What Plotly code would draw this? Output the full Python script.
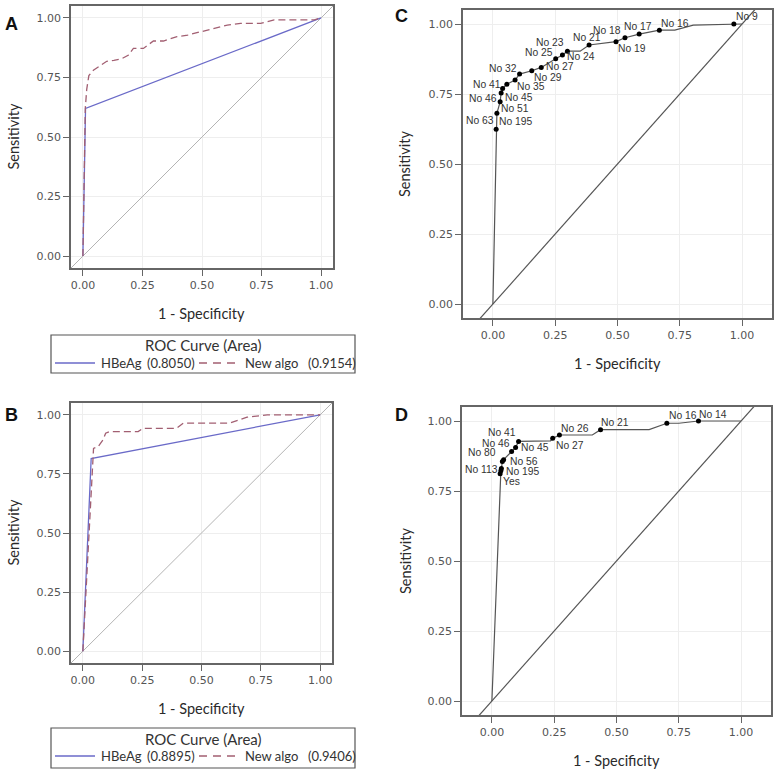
import plotly.graph_objects as go

# ---------------- data ----------------
# Panel A (HBeAg vs New algo)
A_hbeag_fpr = [0, 0.011, 1.0]
A_hbeag_tpr = [0, 0.62, 1.0]
A_new_fpr = [0, 0.010, 0.016, 0.025, 0.044, 0.065, 0.100, 0.130, 0.163, 0.190, 0.212, 0.254,
             0.296, 0.338, 0.395, 0.440, 0.493, 0.549, 0.606, 0.662, 0.746, 0.803, 0.972, 1.0]
A_new_tpr = [0, 0.620, 0.700, 0.758, 0.780, 0.794, 0.818, 0.822, 0.829, 0.843, 0.872, 0.872,
             0.903, 0.903, 0.921, 0.928, 0.942, 0.956, 0.970, 0.977, 0.977, 0.992, 0.992, 1.0]
A_series = ["HBeAg", "New algo"]
A_auc = ["0.8050", "0.9154"]

# Panel B
B_hbeag_fpr = [0, 0.035, 1.0]
B_hbeag_tpr = [0, 0.815, 1.0]
B_new_fpr = [0, 0.040, 0.045, 0.064, 0.085, 0.096, 0.113, 0.233, 0.254, 0.395, 0.424, 0.620, 0.692, 0.777, 1.0]
B_new_tpr = [0, 0.816, 0.858, 0.865, 0.894, 0.922, 0.929, 0.929, 0.943, 0.943, 0.965, 0.965, 0.990, 1.0, 1.0]
B_series = ["HBeAg", "New algo"]
B_auc = ["0.8895", "0.9406"]

legend_title = "ROC Curve (Area)"

# Panel C (labelled cut-offs)
C_curve_fpr = [0, 0.013, 0.016, 0.029, 0.033, 0.039, 0.056, 0.089, 0.107, 0.156, 0.194, 0.252, 0.279,
               0.299, 0.350, 0.386, 0.494, 0.530, 0.587, 0.668, 0.730, 0.804, 0.967, 1.0]
C_curve_tpr = [0, 0.624, 0.681, 0.722, 0.754, 0.770, 0.785, 0.800, 0.821, 0.833, 0.845, 0.876, 0.889,
               0.903, 0.903, 0.925, 0.937, 0.951, 0.964, 0.978, 0.978, 0.996, 1.0, 1.0]
C_pt_fpr = [0.013, 0.016, 0.029, 0.033, 0.039, 0.056, 0.089, 0.107, 0.156, 0.194, 0.252, 0.279, 0.299,
            0.386, 0.494, 0.530, 0.587, 0.668, 0.967]
C_pt_tpr = [0.624, 0.681, 0.722, 0.754, 0.770, 0.785, 0.800, 0.821, 0.833, 0.845, 0.876, 0.889, 0.903,
            0.925, 0.937, 0.951, 0.964, 0.978, 1.0]
C_labels = ["No 195", "No 63", "No 51", "No 46", "No 45", "No 41", "No 35", "No 32", "No 29", "No 27",
            "No 25", "No 24", "No 23", "No 21", "No 19", "No 18", "No 17", "No 16", "No 9"]

# Panel D
D_curve_fpr = [0, 0.033, 0.036, 0.038, 0.042, 0.047, 0.063, 0.079, 0.095, 0.107, 0.235, 0.244, 0.271,
               0.403, 0.436, 0.631, 0.702, 0.750, 0.829, 1.0]
D_curve_tpr = [0, 0.812, 0.822, 0.830, 0.855, 0.862, 0.876, 0.891, 0.905, 0.927, 0.929, 0.938, 0.950,
               0.950, 0.969, 0.969, 0.992, 0.992, 1.0, 1.0]
D_pt_fpr = [0.033, 0.036, 0.038, 0.042, 0.047, 0.079, 0.095, 0.107, 0.244, 0.271, 0.436, 0.702, 0.829]
D_pt_tpr = [0.812, 0.822, 0.830, 0.855, 0.862, 0.891, 0.905, 0.927, 0.938, 0.950, 0.969, 0.992, 1.0]
D_labels = ["Yes", "No 195", "No 113", "No 80", "No 56", "No 46", "No 45", "No 41",
            "No 27", "No 26", "No 21", "No 16", "No 14"]

diag = [-0.2, 1.2]
tick_vals = [0, 0.25, 0.5, 0.75, 1.0]

# ---------------- styles ----------------
# label offsets (pixels, dx right / dy up) relative to each cut-off point
C_off = [(19, 8), (-17, -7), (15, -7), (-18, -6), (16, -9), (-20, 0), (16, -7), (-17, 6), (16, -7),
         (19, 1), (-17, 6), (19, -1), (-17, 9), (-2, 7), (16, -7), (-18, 7), (-1, 8), (16, 7), (13, 7)]
D_off = [(11, -8), (22, -1), (-20, -1), (-20, 9), (20, -2), (-16, 8), (19, 0), (-17, 9),
         (17, -7), (16, 7), (14, 7), (16, 8), (15, 7)]

W, H = 779, 771
BLUE = "#6A6AC8"
MAROON = "#A25F72"
LINE = "#555555"
DASH = "7px,4px"

fig = go.Figure()


def add_ab(xa, ya, h_fpr, h_tpr, n_fpr, n_tpr, names):
    fig.add_trace(go.Scatter(x=diag, y=diag, mode="lines", line=dict(color="#B4B4B4", width=1),
                             showlegend=False, hoverinfo="skip", xaxis=xa, yaxis=ya))
    fig.add_trace(go.Scatter(x=h_fpr, y=h_tpr, mode="lines", line=dict(color=BLUE, width=1.3),
                             name=names[0], showlegend=False, xaxis=xa, yaxis=ya))
    fig.add_trace(go.Scatter(x=n_fpr, y=n_tpr, mode="lines", line=dict(color=MAROON, width=1.3, dash=DASH),
                             name=names[1], showlegend=False, xaxis=xa, yaxis=ya))


add_ab("x", "y", A_hbeag_fpr, A_hbeag_tpr, A_new_fpr, A_new_tpr, A_series)
add_ab("x3", "y3", B_hbeag_fpr, B_hbeag_tpr, B_new_fpr, B_new_tpr, B_series)

annots = []
lab_font = dict(family="Liberation Sans", size=10.3, color="#333333")


def add_cd(xa, ya, c_fpr, c_tpr, p_fpr, p_tpr, labels, offs):
    fig.add_trace(go.Scatter(x=diag, y=diag, mode="lines", line=dict(color=LINE, width=1.2),
                             showlegend=False, hoverinfo="skip", xaxis=xa, yaxis=ya))
    fig.add_trace(go.Scatter(x=c_fpr, y=c_tpr, mode="lines", line=dict(color=LINE, width=1.2),
                             showlegend=False, xaxis=xa, yaxis=ya))
    fig.add_trace(go.Scatter(x=p_fpr, y=p_tpr, mode="markers", text=labels,
                             marker=dict(color="black", size=5),
                             showlegend=False, xaxis=xa, yaxis=ya))
    for xv, yv, t, (dx, dy) in zip(p_fpr, p_tpr, labels, offs):
        annots.append(dict(x=xv, y=yv, xref=xa, yref=ya, text=t, showarrow=False,
                           xshift=dx, yshift=dy, font=lab_font, xanchor="center", yanchor="middle"))


add_cd("x2", "y2", C_curve_fpr, C_curve_tpr, C_pt_fpr, C_pt_tpr, C_labels, C_off)
add_cd("x4", "y4", D_curve_fpr, D_curve_tpr, D_pt_fpr, D_pt_tpr, D_labels, D_off)


def ax(domain, rng, anchor):
    return dict(domain=domain, range=rng, anchor=anchor, tickvals=tick_vals, tickformat=".2f",
                showline=True, mirror=True, linecolor="#666666", linewidth=1.5,
                ticks="outside", ticklen=6, tickcolor="#666666", tickwidth=1,
                showgrid=True, gridcolor="#EEEEEE", gridwidth=1, zeroline=False,
                tickfont=dict(family="DejaVu Sans", size=11, color="#555555"))


def dx_(a, b):
    return [a / W, b / W]


def dy_(top, bottom):
    return [1 - bottom / H, 1 - top / H]


domA_x, domA_y = dx_(71, 333), dy_(6, 268)
domB_x, domB_y = dx_(71, 332), dy_(403, 663)
domC_x, domC_y = dx_(463, 772), dy_(10, 318)
domD_x, domD_y = dx_(462, 771), dy_(407, 715)

rAB = [-0.05, 1.05]
rCDx = [-0.12, 1.12]

# ---- legends drawn as a framed key under panels A and B ----
shapes = []
leg_font = dict(family="Lato", size=13, color="#333333")
leg_title_font = dict(family="Lato", size=15, color="#333333")


def px(x):
    return x / W


def py(y):
    return 1 - y / H


def add_key(top, bottom, names, aucs):
    shapes.append(dict(type="rect", xref="paper", yref="paper", x0=px(51), x1=px(355), y0=py(bottom), y1=py(top),
                       line=dict(color="#555555", width=1.2), fillcolor="rgba(0,0,0,0)"))
    ty = top + 10.5
    iy = top + 28
    annots.append(dict(text=legend_title, x=px(203), y=py(ty), xref="paper", yref="paper", showarrow=False,
                       font=leg_title_font, xanchor="center", yanchor="middle"))
    shapes.append(dict(type="line", xref="paper", yref="paper", x0=px(55), x1=px(95), y0=py(iy), y1=py(iy),
                       line=dict(color=BLUE, width=1.3)))
    shapes.append(dict(type="line", xref="paper", yref="paper", x0=px(199), x1=px(236), y0=py(iy), y1=py(iy),
                       line=dict(color=MAROON, width=1.3, dash="8px,6px")))
    for txt, xl in [(names[0], 99), ("(" + aucs[0] + ")", 145), (names[1], 243), ("(" + aucs[1] + ")", 306)]:
        annots.append(dict(text=txt, x=px(xl), y=py(iy), xref="paper", yref="paper", showarrow=False,
                           font=leg_font, xanchor="left", yanchor="middle"))


add_key(335, 373, A_series, A_auc)
add_key(728, 768, B_series, B_auc)

title_font = dict(family="Lato", size=14.5, color="#2a2a2a")
letter_font = dict(family="Liberation Sans", size=18, color="#111111")
for (dxd, xt_y) in [(domA_x, 313), (domB_x, 708), (domC_x, 363), (domD_x, 760)]:
    annots.append(dict(text="1 - Specificity", x=(dxd[0] + dxd[1]) / 2, y=py(xt_y), xref="paper", yref="paper",
                       showarrow=False, font=title_font, xanchor="center", yanchor="middle"))
for (xpx, dyd) in [(12.5, domA_y), (12.5, domB_y), (405, domC_y), (405, domD_y)]:
    annots.append(dict(text="Sensitivity", x=px(xpx), y=(dyd[0] + dyd[1]) / 2, xref="paper", yref="paper",
                       showarrow=False, font=title_font, textangle=-90, xanchor="center", yanchor="middle"))
for (lt, xpx, ypx) in [("A", 11, 24), ("B", 11, 415), ("C", 401, 16), ("D", 401, 415)]:
    annots.append(dict(text="<b>" + lt + "</b>", x=px(xpx), y=py(ypx), xref="paper", yref="paper",
                       showarrow=False, font=letter_font, xanchor="center", yanchor="middle"))

fig.update_layout(
    width=W, height=H, margin=dict(l=0, r=0, t=0, b=0),
    paper_bgcolor="white", plot_bgcolor="white", showlegend=False,
    xaxis=ax(domA_x, rAB, "y"), yaxis=ax(domA_y, rAB, "x"),
    xaxis2=ax(domC_x, rCDx, "y2"), yaxis2=ax(domC_y, rAB, "x2"),
    xaxis3=ax(domB_x, rAB, "y3"), yaxis3=ax(domB_y, rAB, "x3"),
    xaxis4=ax(domD_x, rCDx, "y4"), yaxis4=ax(domD_y, rAB, "x4"),
    shapes=shapes, annotations=annots,
)

# remove the default page margin so the 779x771 figure fills the window exactly
fig.write_html("out.html", config={"displayModeBar": False},
               post_script="document.body.style.margin='0px';document.body.style.overflow='hidden';")
